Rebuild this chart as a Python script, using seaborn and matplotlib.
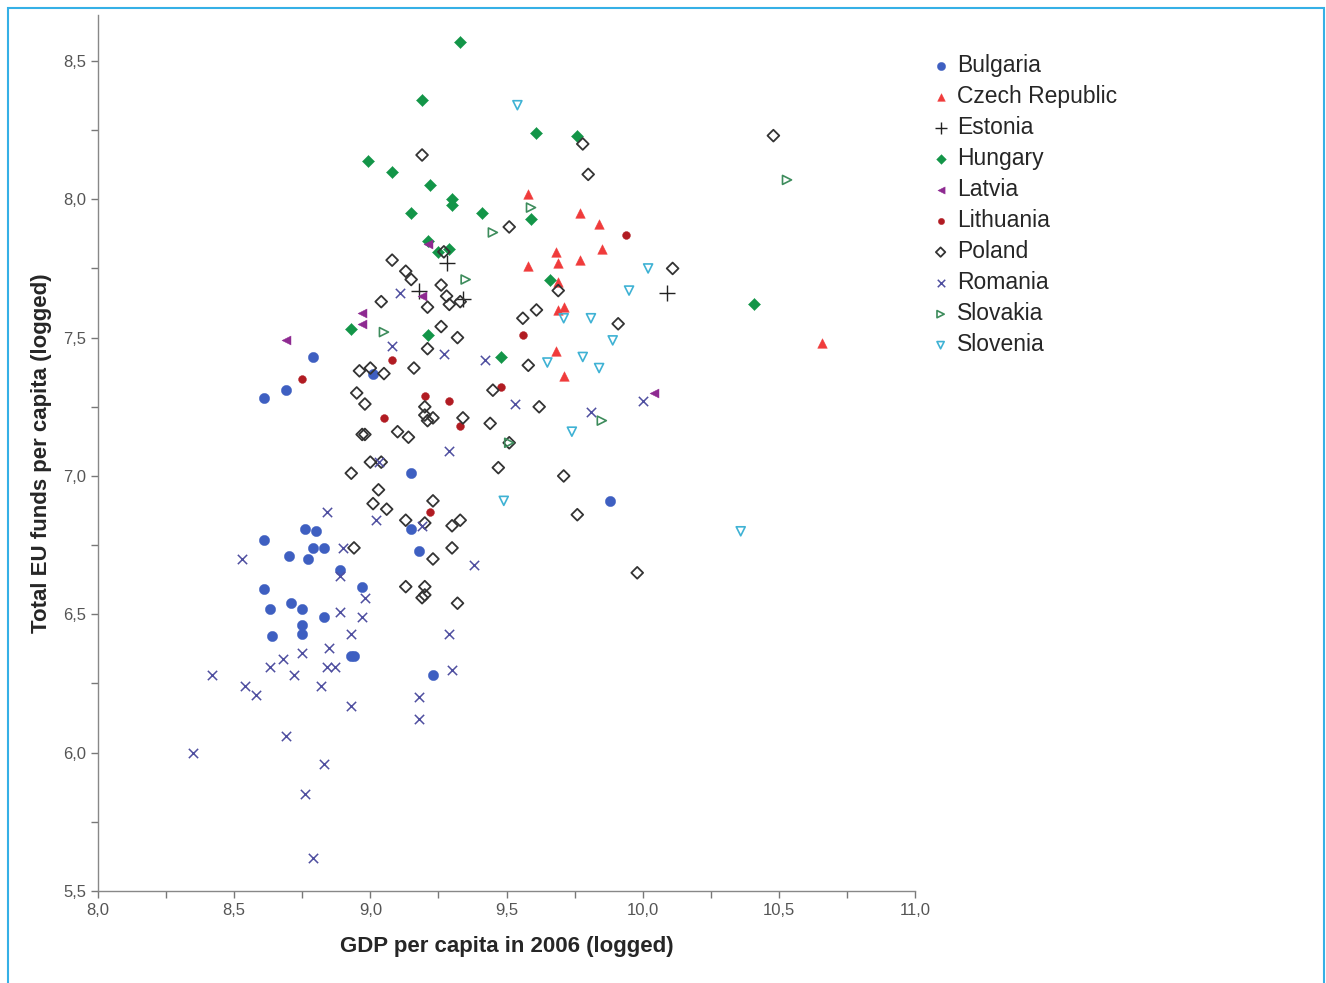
import matplotlib
matplotlib.use("Agg")
import matplotlib.pyplot as plt
from matplotlib.patches import Rectangle
from matplotlib.ticker import MultipleLocator, FuncFormatter
import pandas as pd
import seaborn as sns

# values (log GDP per capita, log EU funds per capita)
bulgaria_x = [8.61, 8.69, 8.79, 9.01, 9.15, 9.88, 8.76, 8.80, 8.61, 8.70, 8.79, 8.83, 8.77, 8.89,
              9.15, 9.18, 8.97, 8.61, 8.63, 8.71, 8.75, 8.83, 8.75, 8.75, 8.64, 8.93, 8.94, 9.23]
bulgaria_y = [7.28, 7.31, 7.43, 7.37, 7.01, 6.91, 6.81, 6.80, 6.77, 6.71, 6.74, 6.74, 6.70, 6.66,
              6.81, 6.73, 6.60, 6.59, 6.52, 6.54, 6.52, 6.49, 6.46, 6.43, 6.42, 6.35, 6.35, 6.28]

czech_x = [9.58, 9.77, 9.84, 9.85, 9.68, 9.77, 9.69, 9.58, 9.69, 9.71, 9.69, 9.68, 9.71, 10.66]
czech_y = [8.02, 7.95, 7.91, 7.82, 7.81, 7.78, 7.77, 7.76, 7.70, 7.61, 7.60, 7.45, 7.36, 7.48]

estonia_x = [9.28, 9.18, 9.34, 10.09]
estonia_y = [7.77, 7.67, 7.64, 7.66]

hungary_x = [9.33, 9.19, 8.99, 9.08, 9.22, 9.30, 9.30, 9.15, 9.41, 9.21, 9.25, 9.29, 9.61, 9.76,
             9.59, 8.93, 9.21, 9.66, 9.48, 10.41]
hungary_y = [8.57, 8.36, 8.14, 8.10, 8.05, 8.00, 7.98, 7.95, 7.95, 7.85, 7.81, 7.82, 8.24, 8.23,
             7.93, 7.53, 7.51, 7.71, 7.43, 7.62]

latvia_x = [9.21, 8.97, 8.97, 8.69, 9.19, 10.04]
latvia_y = [7.84, 7.59, 7.55, 7.49, 7.65, 7.30]

lithuania_x = [8.75, 9.08, 9.20, 9.29, 9.05, 9.33, 9.56, 9.48, 9.94, 9.22]
lithuania_y = [7.35, 7.42, 7.29, 7.27, 7.21, 7.18, 7.51, 7.32, 7.87, 6.87]

poland_x = [9.19, 9.78, 9.80, 10.48, 9.51, 10.11, 9.08, 9.13, 9.27, 9.15, 9.26, 9.28, 9.29, 9.33,
            9.21, 9.04, 9.26, 9.32, 9.21, 9.16, 9.00, 8.96, 9.05, 8.95, 8.98, 9.20, 9.20, 9.23,
            9.21, 9.34, 9.10, 9.14, 8.97, 8.98, 9.00, 9.04, 8.93, 9.03, 9.01, 9.06, 9.13, 9.20,
            9.23, 8.94, 9.23, 9.13, 9.20, 9.19, 9.20, 9.69, 9.61, 9.56, 9.91, 9.58, 9.45, 9.62,
            9.44, 9.51, 9.47, 9.71, 9.33, 9.30, 9.30, 9.76, 9.98, 9.32]
poland_y = [8.16, 8.20, 8.09, 8.23, 7.90, 7.75, 7.78, 7.74, 7.81, 7.71, 7.69, 7.65, 7.62, 7.63,
            7.61, 7.63, 7.54, 7.50, 7.46, 7.39, 7.39, 7.38, 7.37, 7.30, 7.26, 7.25, 7.22, 7.21,
            7.20, 7.21, 7.16, 7.14, 7.15, 7.15, 7.05, 7.05, 7.01, 6.95, 6.90, 6.88, 6.84, 6.83,
            6.91, 6.74, 6.70, 6.60, 6.60, 6.56, 6.57, 7.67, 7.60, 7.57, 7.55, 7.40, 7.31, 7.25,
            7.19, 7.12, 7.03, 7.00, 6.84, 6.82, 6.74, 6.86, 6.65, 6.54]

romania_x = [9.11, 9.08, 9.27, 9.29, 9.03, 9.42, 9.53, 9.81, 10.00, 8.84, 9.02, 8.53, 8.90, 8.89,
             8.98, 8.89, 8.97, 8.93, 8.85, 8.75, 8.68, 8.63, 8.72, 8.84, 8.87, 8.42, 8.54, 8.58,
             8.82, 8.93, 9.18, 9.18, 9.19, 9.38, 9.29, 9.30, 8.69, 8.35, 8.83, 8.76, 8.79]
romania_y = [7.66, 7.47, 7.44, 7.09, 7.05, 7.42, 7.26, 7.23, 7.27, 6.87, 6.84, 6.70, 6.74, 6.64,
             6.56, 6.51, 6.49, 6.43, 6.38, 6.36, 6.34, 6.31, 6.28, 6.31, 6.31, 6.28, 6.24, 6.21,
             6.24, 6.17, 6.20, 6.12, 6.82, 6.68, 6.43, 6.30, 6.06, 6.00, 5.96, 5.85, 5.62]

slovakia_x = [9.59, 9.45, 10.53, 9.35, 9.05, 9.51, 9.85]
slovakia_y = [7.97, 7.88, 8.07, 7.71, 7.52, 7.12, 7.20]

slovenia_x = [9.54, 10.02, 9.95, 9.71, 9.81, 9.89, 9.78, 9.65, 9.84, 9.74, 9.49, 10.36]
slovenia_y = [8.34, 7.75, 7.67, 7.57, 7.57, 7.49, 7.43, 7.41, 7.39, 7.16, 6.91, 6.80]

countries = ["Bulgaria", "Czech Republic", "Estonia", "Hungary", "Latvia",
             "Lithuania", "Poland", "Romania", "Slovakia", "Slovenia"]
xs = [bulgaria_x, czech_x, estonia_x, hungary_x, latvia_x,
      lithuania_x, poland_x, romania_x, slovakia_x, slovenia_x]
ys = [bulgaria_y, czech_y, estonia_y, hungary_y, latvia_y,
      lithuania_y, poland_y, romania_y, slovakia_y, slovenia_y]

# marker look per country (SPSS default style)
styles = [
    dict(marker="o", s=55, color="#3e5fc1", edgecolor="#3e5fc1", linewidth=0.3),
    dict(marker="^", s=48, color="#f03b3b", edgecolor="#f03b3b", linewidth=0.3),
    dict(marker="+", s=130, color="#222222", edgecolor=None, linewidth=1.0),
    dict(marker="D", s=38, color="#139548", edgecolor="#139548", linewidth=0.3),
    dict(marker="<", s=42, color="#8e2a91", edgecolor="#8e2a91", linewidth=0.3),
    dict(marker="o", s=32, color="#b11b22", edgecolor="#b11b22", linewidth=0.3),
    dict(marker="D", s=36, color="#333333", facecolor="none", edgecolor="#333333", linewidth=1.3),
    dict(marker="x", s=45, color="#4f4fa0", edgecolor=None, linewidth=1.1),
    dict(marker=">", s=42, color="#3d8c5c", facecolor="none", edgecolor="#3d8c5c", linewidth=1.2),
    dict(marker="v", s=42, color="#3fb2d4", facecolor="none", edgecolor="#3fb2d4", linewidth=1.2),
]

sns.set_style("ticks")
plt.rcParams["font.family"] = ["Liberation Sans", "DejaVu Sans"]
narrow = ["Liberation Sans Narrow", "Liberation Sans", "DejaVu Sans"]

fig = plt.figure(figsize=(13.26, 9.83), dpi=100)
ax = fig.add_axes([98 / 1326, 92 / 983, 817 / 1326, 876 / 983])

for name, x, y, st in zip(countries, xs, ys, styles):
    df = pd.DataFrame({"gdp": x, "funds": y})
    sns.scatterplot(data=df, x="gdp", y="funds", ax=ax, label=name, legend=False, **st)

ax.set_xlim(8.0, 11.0)
ax.set_ylim(5.5, 8.666)
ax.xaxis.set_major_locator(MultipleLocator(0.5))
ax.xaxis.set_minor_locator(MultipleLocator(0.25))
ax.yaxis.set_major_locator(MultipleLocator(0.5))
ax.yaxis.set_minor_locator(MultipleLocator(0.25))
comma = FuncFormatter(lambda v, _: f"{v:.1f}".replace(".", ","))
ax.xaxis.set_major_formatter(comma)
ax.yaxis.set_major_formatter(comma)
ax.tick_params(which="both", direction="out", length=5, width=1, color="#777777",
               labelcolor="#555555", labelsize=12)
for lab in ax.get_xticklabels() + ax.get_yticklabels():
    lab.set_family(narrow)

sns.despine(ax=ax)
for side in ["left", "bottom"]:
    ax.spines[side].set_color("#888888")
    ax.spines[side].set_linewidth(1)

ax.set_xlabel("GDP per capita in 2006 (logged)", fontsize=16, fontweight="bold",
              family=narrow, labelpad=13)
ax.set_ylabel("Total EU funds per capita (logged)", fontsize=16, fontweight="bold",
              family=narrow, labelpad=8)

ax.legend(loc="upper left", bbox_to_anchor=(932 / 1326, 1 - 54 / 983),
          bbox_transform=fig.transFigure, frameon=False, fontsize=16.5,
          markerscale=0.8, handlelength=0.75, handletextpad=0.35,
          labelspacing=0.35, borderpad=0, borderaxespad=0)

# light blue frame round the whole picture
fig.patches.append(Rectangle((8 / 1326, -0.02), 1316 / 1326, 1.02 - 8 / 983,
                             transform=fig.transFigure, fill=False,
                             edgecolor="#35b0e6", linewidth=1.5))

plt.savefig("out.png", dpi=100)
